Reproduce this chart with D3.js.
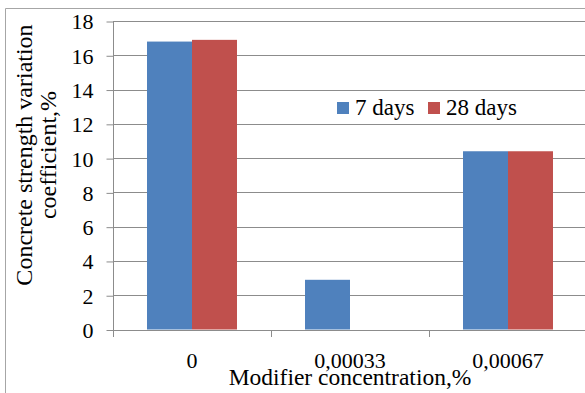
<!DOCTYPE html>
<html>
<head>
<meta charset="utf-8">
<script src="https://cdn.jsdelivr.net/npm/d3@7"></script>
<style>
  html, body { margin: 0; padding: 0; background: #fff; }
  svg text { font-family: "Liberation Serif", "Times New Roman", Times, "DejaVu Serif", serif; fill: #000; }
</style>
</head>
<body>
<svg id="chart" width="585" height="393"></svg>
<script>
// Coefficient of variation of concrete strength by modifier concentration
const categories = ["0", "0,00033", "0,00067"];
const seriesNames = ["7 days", "28 days"];
const days7 = [16.8, 2.9, 10.4];
const days28 = [16.9, 0, 10.4];
const yTicks = [0, 2, 4, 6, 8, 10, 12, 14, 16, 18];
const colors = ["#4F81BD", "#C0504D"];
const FONT = '"Liberation Serif", "Times New Roman", Times, "DejaVu Serif", serif';

const svg = d3.select("#chart");
const W = 585, H = 393;
const plot = { left: 113, right: 587, top: 21, bottom: 329.5 };

// chart frame
svg.append("line").attr("x1", 5.5).attr("x2", W).attr("y1", 8.5).attr("y2", 8.5)
  .attr("stroke", "#a6a6a6").attr("stroke-width", 1);
svg.append("line").attr("x1", 5.5).attr("x2", 5.5).attr("y1", 8.5).attr("y2", H)
  .attr("stroke", "#a6a6a6").attr("stroke-width", 1);

const x = d3.scaleBand().domain(categories).range([plot.left, plot.right]).paddingInner(0).paddingOuter(0);
const xInner = d3.scaleBand().domain(seriesNames).range([0, x.bandwidth()]).paddingOuter(0.756).paddingInner(0);
const y = d3.scaleLinear().domain([0, 18]).range([plot.bottom, plot.top]);

// horizontal gridlines
svg.append("g").selectAll("line").data(yTicks.filter(d => d > 0)).join("line")
  .attr("x1", plot.left).attr("x2", W)
  .attr("y1", d => Math.round(y(d)) + 0.5).attr("y2", d => Math.round(y(d)) + 0.5)
  .attr("stroke", "#8c8c8c").attr("stroke-width", 1);

// bars
const rows = categories.map((c, i) => ({ c, vals: [days7[i], days28[i]] }));
const groups = svg.append("g").selectAll("g").data(rows).join("g")
  .attr("transform", d => `translate(${x(d.c)},0)`);
groups.selectAll("rect").data(d => d.vals.map((v, k) => ({ v, k })).filter(e => e.v > 0)).join("rect")
  .attr("x", e => xInner(seriesNames[e.k]))
  .attr("width", xInner.bandwidth())
  .attr("y", e => y(e.v))
  .attr("height", e => y(0) - y(e.v))
  .attr("fill", e => colors[e.k]);

// y axis
const yAxis = d3.axisLeft(y).tickValues(yTicks).tickSize(7).tickPadding(13).tickFormat(d3.format("d"));
const gy = svg.append("g").attr("transform", `translate(${plot.left + 0.5},0.5)`).call(yAxis)
  .attr("font-family", FONT).attr("font-size", 22);
gy.select(".domain").attr("stroke", "#8c8c8c").attr("d", `M0,${plot.top}V${plot.bottom}`);
gy.selectAll(".tick line").attr("stroke", "#8c8c8c");
gy.selectAll(".tick text").attr("dy", "0.34em");

// x axis
const xAxis = d3.axisBottom(x).tickSize(0).tickPadding(0);
const gx = svg.append("g").attr("transform", `translate(0,${Math.round(plot.bottom) + 0.5})`).call(xAxis)
  .attr("font-family", FONT).attr("font-size", 22);
gx.select(".domain").attr("stroke", "#8c8c8c").attr("d", `M${plot.left},0H${W}`);
gx.selectAll(".tick text").attr("y", 37).attr("dy", 0);
// category boundary ticks
svg.append("g").selectAll("line").data(categories).join("line")
  .attr("x1", d => Math.round(x(d)) + 0.5).attr("x2", d => Math.round(x(d)) + 0.5)
  .attr("y1", Math.round(plot.bottom)).attr("y2", Math.round(plot.bottom) + 7)
  .attr("stroke", "#8c8c8c");

// axis titles
svg.append("text").attr("x", 350).attr("y", 385).attr("text-anchor", "middle")
  .attr("font-family", FONT).attr("font-size", 23.5).text("Modifier concentration,%");
const yt = svg.append("text").attr("transform", "translate(0,155) rotate(-90)")
  .attr("text-anchor", "middle").attr("font-family", FONT).attr("font-size", 24);
yt.append("tspan").attr("x", 0).attr("y", 32).text("Concrete strength variation");
yt.append("tspan").attr("x", 0).attr("y", 56).text("coefficient,%");

// legend
const legend = svg.append("g").attr("font-family", FONT).attr("font-size", 23);
const legendX = [337, 428];
seriesNames.forEach((s, k) => {
  legend.append("rect").attr("x", legendX[k]).attr("y", 102).attr("width", 12).attr("height", 12).attr("fill", colors[k]);
  legend.append("text").attr("x", legendX[k] + 18).attr("y", 115).text(s);
});
</script>
</body>
</html>
